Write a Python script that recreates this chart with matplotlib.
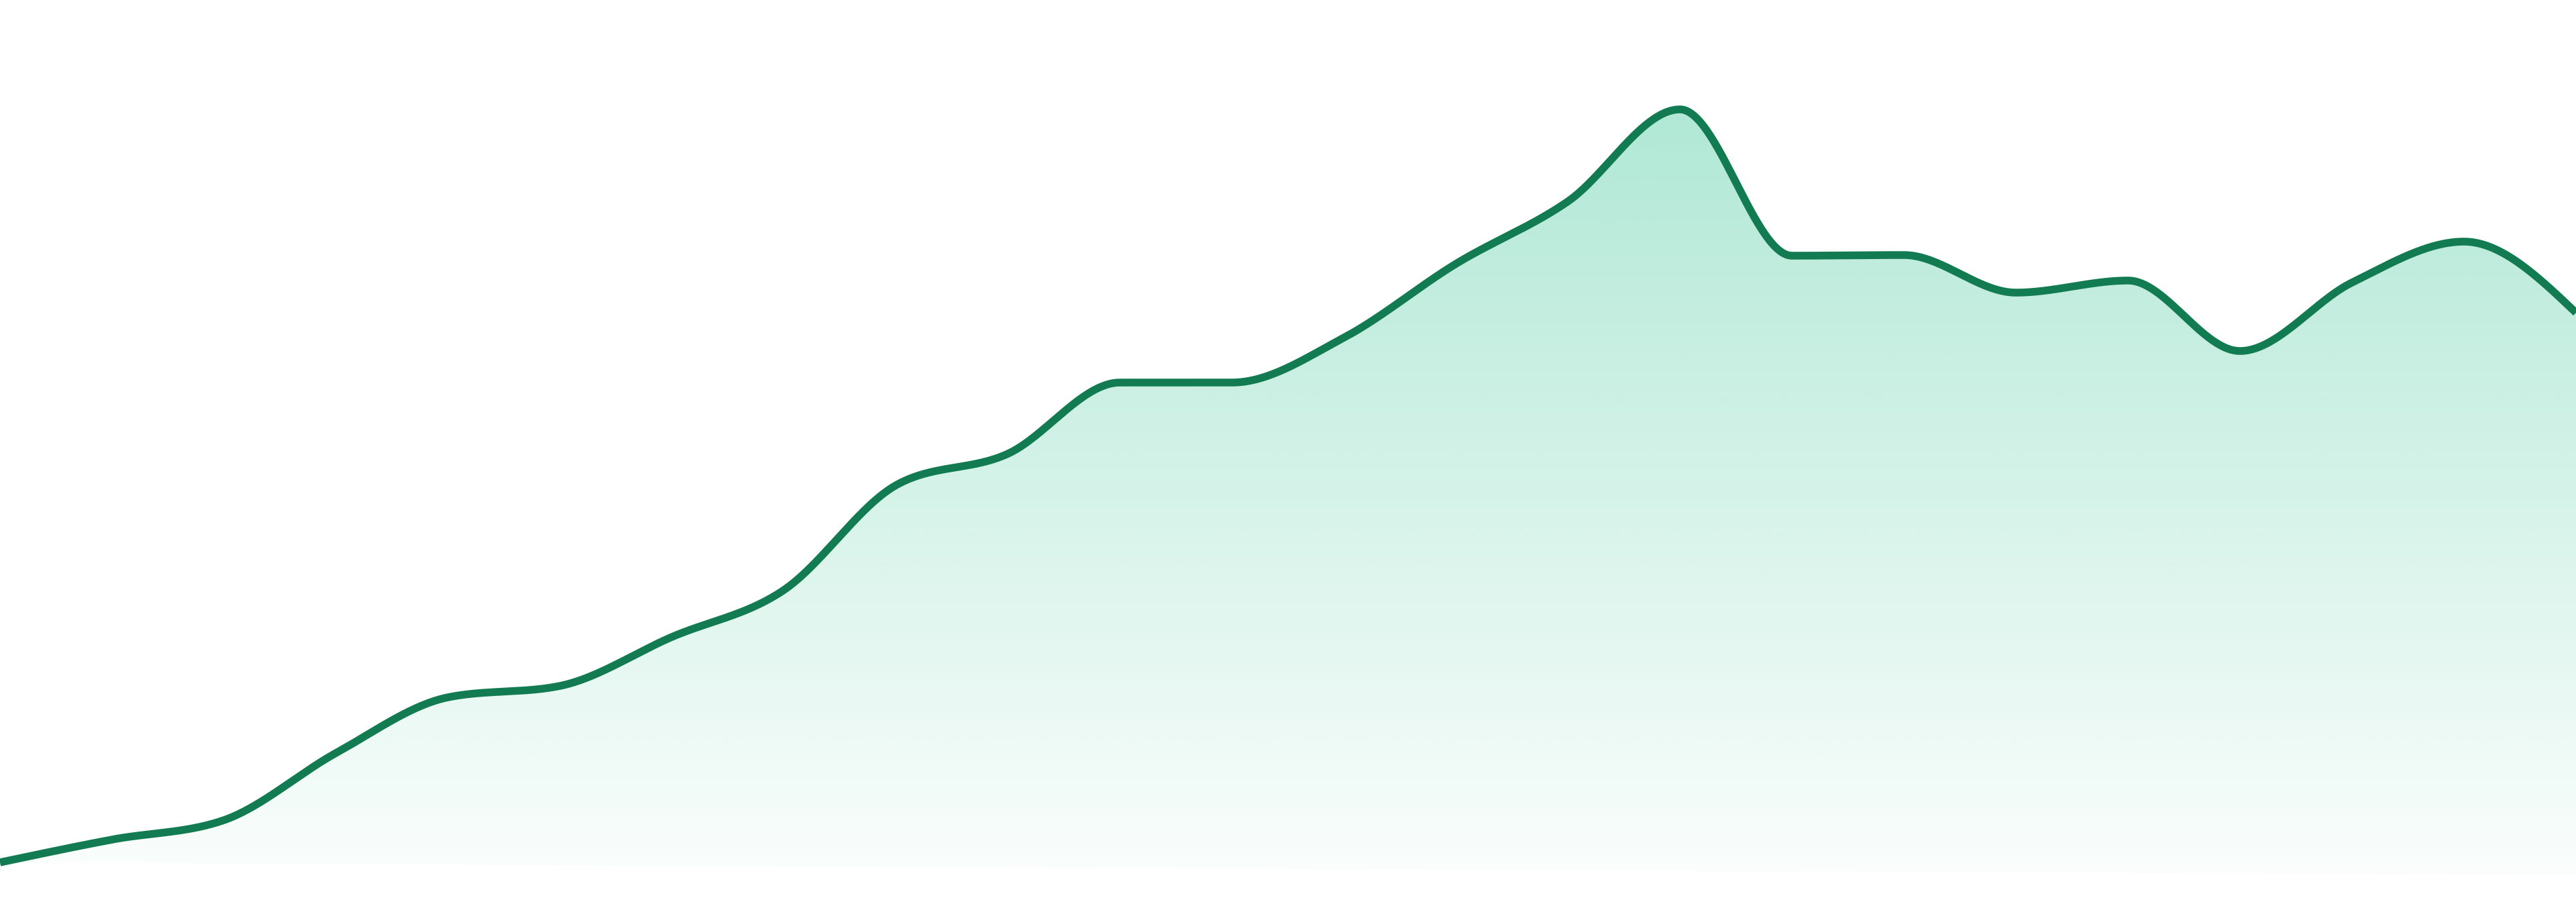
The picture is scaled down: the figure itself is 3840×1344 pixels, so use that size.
import numpy as np
import matplotlib
matplotlib.use("Agg")
import matplotlib.pyplot as plt
from matplotlib.patches import PathPatch
from matplotlib.path import Path

# ---- data ----
points = list(range(24))
values = [19, 53, 82, 182, 265, 282, 355, 425, 581, 628, 734, 734,
          801, 911, 1004, 1141, 923, 924, 868, 886, 781, 883, 944, 838]

LINE_COLOR = "#127B52"
FILL_RGB = (16 / 255, 185 / 255, 129 / 255)


def monotone_x(x, y, n=60):
    x = np.asarray(x, float)
    y = np.asarray(y, float)
    h = np.diff(x)
    s = np.diff(y) / h
    m = len(x)
    t = np.zeros(m)
    for i in range(1, m - 1):
        h0, h1 = h[i - 1], h[i]
        s0, s1 = s[i - 1], s[i]
        p = (s0 * h1 + s1 * h0) / (h0 + h1)
        t[i] = (np.sign(s0) + np.sign(s1)) * min(abs(s0), abs(s1), 0.5 * abs(p))
    t[0] = (3 * s[0] - t[1]) / 2
    t[-1] = (3 * s[-1] - t[-2]) / 2
    xs, ys = [], []
    u = np.linspace(0, 1, n)
    for i in range(m - 1):
        x0, x1, y0, y1 = x[i], x[i + 1], y[i], y[i + 1]
        dx = (x1 - x0) / 3
        cx = [x0, x0 + dx, x1 - dx, x1]
        cy = [y0, y0 + t[i] * dx, y1 - t[i + 1] * dx, y1]
        b = [(1 - u) ** 3, 3 * (1 - u) ** 2 * u, 3 * (1 - u) * u ** 2, u ** 3]
        bx = sum(bi * ci for bi, ci in zip(b, cx))
        by = sum(bi * ci for bi, ci in zip(b, cy))
        if i > 0:
            bx, by = bx[1:], by[1:]
        xs.append(bx)
        ys.append(by)
    return np.concatenate(xs), np.concatenate(ys)


fig = plt.figure(figsize=(38.4, 13.44), dpi=100)
ax = fig.add_axes([0, 0, 1, 1])
ax.set_xlim(0, 23)
ax.set_ylim(-40, 1304)
ax.axis("off")

cx, cy = monotone_x(points, values)

# gradient fill clipped to area under the curve
top = max(values)
grad_h = 256
alpha = np.linspace(0.02, 0.33, grad_h)[:, None]
img = np.zeros((grad_h, 2, 4))
img[..., 0] = FILL_RGB[0]
img[..., 1] = FILL_RGB[1]
img[..., 2] = FILL_RGB[2]
img[..., 3] = alpha
im = ax.imshow(img, extent=(0, 23, 0, top), origin="lower", aspect="auto",
               interpolation="bilinear", zorder=1)
verts = np.column_stack([np.concatenate([cx, [cx[-1], cx[0]]]),
                         np.concatenate([cy, [0, 0]])])
clip = PathPatch(Path(verts, closed=True), transform=ax.transData,
                 facecolor="none", edgecolor="none")
ax.add_patch(clip)
im.set_clip_path(clip)

ax.plot(cx, cy, color=LINE_COLOR, linewidth=8.3, solid_capstyle="butt",
        solid_joinstyle="round", zorder=3)

fig.savefig("out.png", dpi=100, facecolor="white")
